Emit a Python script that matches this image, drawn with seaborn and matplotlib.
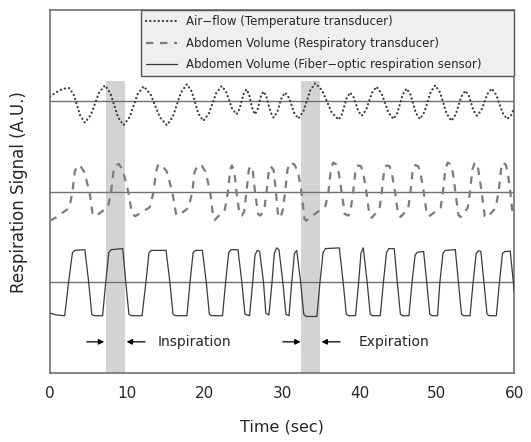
import numpy as np
import pandas as pd
import seaborn as sns
import matplotlib.pyplot as plt

# Air-flow (temperature transducer), offset from its own baseline (A.U.)
air_t = [0.0, 1.2, 1.9, 2.5, 3.1, 3.9, 4.5, 5.28, 6.32, 7.1, 7.82, 8.78, 9.5, 10.28, 11.32,
         12.1, 13.0, 14.2, 15.1, 15.88, 16.92, 17.7, 18.33, 19.17, 19.8, 20.52, 21.48,
         22.2, 22.77, 23.53, 24.1, 24.49, 25.01, 25.4, 25.73, 26.17, 26.5, 26.83, 27.27,
         27.6, 27.99, 28.51, 28.9, 29.35, 29.95, 30.4, 30.91, 31.59, 32.1, 32.76, 33.64,
         34.3, 35.2, 36.4, 37.3, 37.75, 38.35, 38.8, 39.25, 39.85, 40.3, 40.87, 41.63,
         42.2, 42.86, 43.74, 44.4, 44.91, 45.59, 46.1, 46.61, 47.29, 47.8, 48.4, 49.2,
         49.8, 50.43, 51.27, 51.9, 52.44, 53.16, 53.7, 54.15, 54.75, 55.2, 55.77, 56.53,
         57.1, 57.7, 58.5, 59.1, 59.6, 60.0]
air_v = [0.12, 0.29, 0.34, 0.35, 0.155, -0.405, -0.6, -0.389, 0.219, 0.43, 0.205, -0.445,
         -0.67, -0.451, 0.181, 0.4, 0.181, -0.451, -0.67, -0.438, 0.228, 0.46, 0.253, -0.343,
         -0.55, -0.353, 0.213, 0.41, 0.25, -0.21, -0.37, -0.229, 0.179, 0.32, 0.179, -0.229,
         -0.37, -0.241, 0.131, 0.26, 0.112, -0.312, -0.46, -0.319, 0.089, 0.23, 0.082, -0.342,
         -0.49, -0.289, 0.289, 0.49, 0.283, -0.313, -0.52, -0.366, 0.076, 0.23, 0.099, -0.279,
         -0.41, -0.246, 0.226, 0.39, 0.208, -0.318, -0.5, -0.328, 0.168, 0.34, 0.168, -0.328,
         -0.5, -0.309, 0.239, 0.43, 0.229, -0.349, -0.55, -0.38, 0.11, 0.28, 0.139, -0.269,
         -0.41, -0.256, 0.186, 0.34, 0.168, -0.328, -0.5, -0.4, -0.2]

# Abdomen volume (respiratory transducer)
resp_t = [0.0, 0.7, 2.5, 2.9, 3.2, 3.5, 3.9, 4.4, 5.1, 5.5, 5.9, 7.5,
          7.9, 8.2, 8.5, 8.9, 9.4, 10.1, 10.6, 11.0, 12.9,
          13.4, 13.7, 14.0, 14.5, 15.1, 15.8, 16.3, 16.6, 17.9,
          18.4, 18.7, 19.1, 19.6, 20.1, 20.7, 21.1, 21.3, 22.6,
          23.0, 23.3, 23.5, 23.8, 24.1, 24.5, 24.8, 25.1,
          25.4, 25.7, 25.9, 26.2, 26.5, 26.9, 27.2, 27.7,
          28.0, 28.3, 28.5, 28.9, 29.2, 29.5, 29.8, 30.1,
          30.4, 30.7, 31.0, 31.6, 32.1, 32.5, 32.9, 33.1, 35.6,
          36.0, 36.3, 36.6, 37.0, 37.3, 37.7, 38.1, 38.6, 38.9,
          39.2, 39.5, 39.8, 40.2, 40.5, 40.9, 41.3, 41.6, 42.6,
          42.9, 43.2, 43.5, 43.9, 44.2, 44.6, 45.0, 45.3, 46.3,
          46.6, 46.9, 47.2, 47.6, 47.9, 48.3, 48.7, 49.0, 50.5,
          50.8, 51.1, 51.4, 51.8, 52.1, 52.4, 52.8, 53.1, 54.0,
          54.3, 54.6, 54.9, 55.3, 55.8, 56.2, 56.5, 57.6,
          58.0, 58.3, 58.5, 58.9, 59.2, 59.5, 59.8, 60.0]
resp_v = [-0.8, -0.72, -0.45, 0.0, 0.55, 0.7, 0.72, 0.55, 0.0, -0.6, -0.68, -0.42,
          0.0, 0.55, 0.73, 0.76, 0.6, 0.0, -0.6, -0.68, -0.43,
          0.0, 0.55, 0.75, 0.72, 0.55, 0.0, -0.62, -0.66, -0.45,
          0.0, 0.55, 0.73, 0.72, 0.55, 0.0, -0.7, -0.78, -0.5,
          0.0, 0.6, 0.72, 0.6, 0.0, -0.62, -0.66, -0.55,
          0.0, 0.6, 0.7, 0.6, 0.0, -0.62, -0.66, -0.5,
          0.0, 0.6, 0.7, 0.6, 0.0, -0.68, -0.72, -0.5,
          0.0, 0.6, 0.8, 0.75, 0.5, 0.0, -0.75, -0.8, -0.4,
          0.0, 0.6, 0.8, 0.75, 0.55, 0.0, -0.62, -0.66, -0.45,
          0.0, 0.6, 0.72, 0.7, 0.5, 0.0, -0.66, -0.72, -0.48,
          0.0, 0.6, 0.72, 0.7, 0.5, 0.0, -0.62, -0.7, -0.48,
          0.0, 0.6, 0.73, 0.7, 0.5, 0.0, -0.6, -0.68, -0.45,
          0.0, 0.6, 0.8, 0.75, 0.5, 0.0, -0.65, -0.7, -0.45,
          0.0, 0.6, 0.8, 0.7, 0.0, -0.68, -0.72, -0.45,
          0.0, 0.6, 0.8, 0.75, 0.5, 0.0, -0.6, -0.7]

# Abdomen volume (fiber-optic respiration sensor)
fiber_t = [0.0, 0.8, 1.9, 2.4, 2.9, 3.2, 4.5, 5.0, 5.4, 5.7, 6.8,
           7.2, 7.6, 7.9, 9.4, 9.8, 10.2, 10.5, 11.9,
           12.4, 12.8, 13.1, 15.0, 15.5, 15.9, 16.2, 17.7,
           18.1, 18.5, 18.8, 19.7, 20.2, 20.6, 20.9, 22.3,
           22.7, 23.1, 23.4, 24.3, 24.8, 25.2, 25.8,
           26.2, 26.5, 26.8, 27.1, 27.6, 27.9, 28.3,
           28.7, 29.0, 29.3, 29.6, 30.1, 30.5, 30.9,
           31.25, 31.6, 31.9, 32.4, 32.8, 33.1, 34.5,
           34.9, 35.3, 35.6, 37.4, 37.9, 38.3, 38.6, 39.5,
           39.9, 40.2, 40.5, 41.0, 41.4, 41.7, 42.7,
           43.1, 43.5, 43.8, 44.5, 44.9, 45.3, 45.6, 46.4,
           46.8, 47.2, 47.5, 48.3, 48.7, 49.1, 49.4, 50.1,
           50.4, 50.8, 51.1, 52.4, 52.8, 53.2, 53.5, 54.3,
           54.7, 55.1, 55.4, 55.7, 56.1, 56.5, 56.8, 57.7,
           58.1, 58.5, 58.8, 59.5, 59.9, 60.0]
fiber_v = [-0.85, -0.9, -0.92, 0.0, 0.82, 0.88, 0.9, 0.0, -0.88, -0.92, -0.92,
           0.0, 0.82, 0.9, 0.93, 0.0, -0.88, -0.92, -0.92,
           0.0, 0.82, 0.88, 0.88, 0.0, -0.88, -0.92, -0.92,
           0.0, 0.82, 0.88, 0.88, 0.0, -0.88, -0.92, -0.92,
           0.0, 0.82, 0.9, 0.9, 0.0, -0.88, -0.92,
           0.0, 0.75, 0.88, 0.85, 0.0, -0.85, -0.9,
           0.0, 0.8, 0.95, 0.9, 0.0, -0.88, -0.92,
           0.0, 0.8, 0.88, 0.0, -0.88, -0.94, -0.94,
           0.0, 0.82, 0.93, 0.95, 0.0, -0.88, -0.92, -0.92,
           0.0, 0.8, 0.95, 0.0, -0.88, -0.92, -0.92,
           0.0, 0.82, 0.93, 0.93, 0.0, -0.88, -0.92, -0.92,
           0.0, 0.75, 0.83, 0.85, 0.0, -0.88, -0.92, -0.92,
           0.0, 0.8, 0.88, 0.9, 0.0, -0.88, -0.92, -0.92,
           0.0, 0.8, 0.87, 0.85, 0.0, -0.88, -0.92, -0.92,
           0.0, 0.8, 0.85, 0.86, 0.0, -0.25]

labels = ["Air\u2212flow (Temperature transducer)",
          "Abdomen Volume (Respiratory transducer)",
          "Abdomen Volume (Fiber\u2212optic respiration sensor)"]
baselines = [7.5, 5.0, 2.5]
inspiration_span = (7.2, 9.7)
expiration_span = (32.5, 34.9)

sns.set_style("white")
plt.rcParams['font.family'] = ['DejaVu Sans']

fig = plt.figure(figsize=(5.31, 4.42), dpi=100)
ax = fig.add_axes([0.0942, 0.156, 0.874, 0.821])

# shaded breathing phases
for span in (inspiration_span, expiration_span):
    ax.axvspan(span[0], span[1], ymin=0, ymax=0.805, color='#d3d3d3', lw=0, zorder=0)

for b in baselines:
    ax.axhline(b, color='#707070', lw=1.0, zorder=1)

air = pd.DataFrame({"t": air_t, "v": np.array(air_v) + baselines[0]})
resp = pd.DataFrame({"t": resp_t, "v": np.array(resp_v) + baselines[1]})
fiber = pd.DataFrame({"t": fiber_t, "v": np.array(fiber_v) + baselines[2]})

sns.lineplot(data=air, x="t", y="v", ax=ax, sort=False, estimator=None,
             color='#3c3c3c', lw=1.6, linestyle=(0, (0.1, 1.8)),
             dash_capstyle='round', label=labels[0], zorder=3)
sns.lineplot(data=resp, x="t", y="v", ax=ax, sort=False, estimator=None,
             color='#7c7c7c', lw=1.6, linestyle=(0, (3.3, 3.0)),
             label=labels[1], zorder=3)
sns.lineplot(data=fiber, x="t", y="v", ax=ax, sort=False, estimator=None,
             color='#3a3a3a', lw=0.9, label=labels[2], zorder=3)

# arrows and phase labels
arrow = dict(arrowstyle='-|>', color='black', lw=0.9, mutation_scale=8,
             shrinkA=0, shrinkB=0)
ax.annotate('', xy=(7.0, 0.86), xytext=(4.75, 0.86), arrowprops=arrow)
ax.annotate('', xy=(9.9, 0.86), xytext=(12.3, 0.86), arrowprops=arrow)
ax.text(13.9, 0.86, 'Inspiration', va='center', ha='left', fontsize=10)
ax.annotate('', xy=(32.4, 0.86), xytext=(30.1, 0.86), arrowprops=arrow)
ax.annotate('', xy=(35.1, 0.86), xytext=(37.5, 0.86), arrowprops=arrow)
ax.text(39.9, 0.86, 'Expiration', va='center', ha='left', fontsize=10)

ax.set_xlim(0, 60)
ax.set_ylim(0, 10)
ax.set_xticks(range(0, 61, 10))
ax.set_yticks([])
ax.tick_params(axis='x', direction='in', length=4, color='#666666',
               labelsize=11, pad=9)
ax.set_xlabel('Time (sec)', fontsize=11.5, labelpad=14)
ax.set_ylabel('Respiration Signal (A.U.)', fontsize=12, labelpad=16)
for s in ax.spines.values():
    s.set_color('#666666')
    s.set_linewidth(1.1)

leg = ax.legend(loc='upper right', bbox_to_anchor=(0.196, 0, 0.804, 1), mode='expand',
                borderaxespad=0, frameon=True, fancybox=False, facecolor='#efefef',
                edgecolor='#555555', framealpha=1, fontsize=8.5, handlelength=2.6,
                labelspacing=0.7, borderpad=0.45)
leg.get_frame().set_linewidth(1.0)

fig.savefig('out.png', dpi=100)
